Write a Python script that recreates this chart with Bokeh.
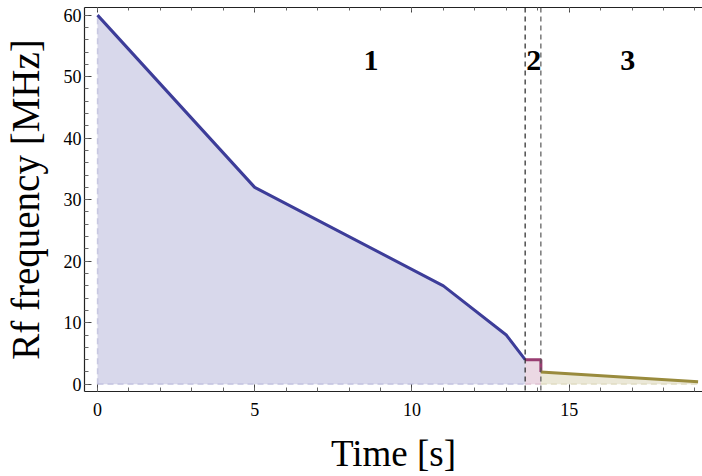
from bokeh.plotting import figure
from bokeh.models import Range1d, LinearAxis, SingleIntervalTicker, Span
from bokeh.core.properties import value
from bokeh.embed import file_html
from bokeh.resources import INLINE

# Stage 1 (blue), stage 2 (magenta), stage 3 (olive)
t1 = [0, 5, 11, 13, 13.6]
f1 = [60, 32, 16, 8, 4]
t2 = [13.6, 14.1, 14.1]
f2 = [4, 4, 2]
t3 = [14.1, 19.1]
f3 = [2, 0.4]
stage_bounds = [13.6, 14.1]
region_labels = ["1", "2", "3"]
region_x = [8.7, 13.87, 16.86]
region_y = [52.7, 52.7, 52.7]

BLUE = "#3d3d99"
MAG = "#993d71"
OLIVE = "#998b3d"
FONT = "Liberation Serif"

p = figure(width=702, height=476, output_backend="svg", toolbar_location=None,
           x_range=Range1d(-0.413, 19.24), y_range=Range1d(-1.18, 61.24),
           min_border_left=83, min_border_bottom=82, min_border_top=7,
           min_border_right=0, x_axis_location=None, y_axis_location=None)
p.outline_line_color = None
p.xgrid.visible = False
p.ygrid.visible = False
p.background_fill_color = "white"
p.border_fill_color = "white"

# fills
p.varea(x=t1, y1=[0] * len(t1), y2=f1, fill_color=BLUE, fill_alpha=0.2)
p.varea(x=t2[:2], y1=[0, 0], y2=f2[:2], fill_color=MAG, fill_alpha=0.2)
p.varea(x=t3, y1=[0, 0], y2=f3, fill_color=OLIVE, fill_alpha=0.2)

# fill boundary dashes
p.line([t1[0], t1[0]], [0, f1[0]], line_color=BLUE, line_alpha=0.2, line_width=1.5, line_dash="6 4")
p.line([t1[0], t1[-1]], [0, 0], line_color=BLUE, line_alpha=0.2, line_width=1.5, line_dash="6 4")
p.line([t2[0], t2[1]], [0, 0], line_color=MAG, line_alpha=0.2, line_width=1.5, line_dash="6 4")
p.line([t3[0], t3[-1]], [0, 0], line_color=OLIVE, line_alpha=0.2, line_width=1.5, line_dash="6 4")

# curves
p.line(t1, f1, line_color=BLUE, line_width=3)
p.line(t2, f2, line_color=MAG, line_width=3)
p.line(t3, f3, line_color=OLIVE, line_width=3)

# stage separators
for xb, col in zip(stage_bounds, ["#222222", "#555555"]):
    p.add_layout(Span(location=xb, dimension="height", line_color=col,
                      line_width=1.2, line_dash="5 4"))

p.text(x=region_x, y=region_y, text=region_labels, text_font=value(FONT),
       text_font_style="bold", text_font_size="30px", text_align="center",
       text_baseline="middle", text_color="black")


def style(ax, labels=True):
    ax.axis_line_color = "#222222"
    ax.axis_line_width = 1.2
    ax.major_tick_line_color = "#444444"
    ax.minor_tick_line_color = "#666666"
    ax.major_tick_in = 7
    ax.major_tick_out = 0
    ax.minor_tick_in = 4
    ax.minor_tick_out = 0
    ax.major_label_text_font = FONT
    ax.major_label_text_color = "black"
    ax.major_label_text_font_size = "18px" if labels else "0px"
    ax.axis_label_text_font = FONT
    ax.axis_label_text_font_style = "normal"
    ax.axis_label_text_font_size = "36px"
    ax.axis_label_text_color = "black"


xaxis = LinearAxis(ticker=SingleIntervalTicker(interval=5, num_minor_ticks=5), axis_label="Time [s]")
style(xaxis)
xaxis.axis_label_text_font_size = "37px"
xaxis.major_label_standoff = 11
xaxis.axis_label_standoff = 14
p.add_layout(xaxis, "below")

yaxis = LinearAxis(ticker=SingleIntervalTicker(interval=10, num_minor_ticks=5), axis_label="Rf frequency [MHz]")
style(yaxis)
yaxis.axis_label_text_font_size = "39px"
yaxis.major_label_standoff = 3
yaxis.axis_label_standoff = 14
p.add_layout(yaxis, "left")

top_ticks = SingleIntervalTicker(interval=5, num_minor_ticks=5)
top = LinearAxis(ticker=top_ticks)
style(top, labels=False)
top.major_label_standoff = 0
top.major_label_overrides = {v: "" for v in [0, 5, 10, 15]}
top.major_tick_in = 5
top.minor_tick_in = 3
p.add_layout(top, "above")

open("out.html", "w").write(file_html(p, INLINE))
